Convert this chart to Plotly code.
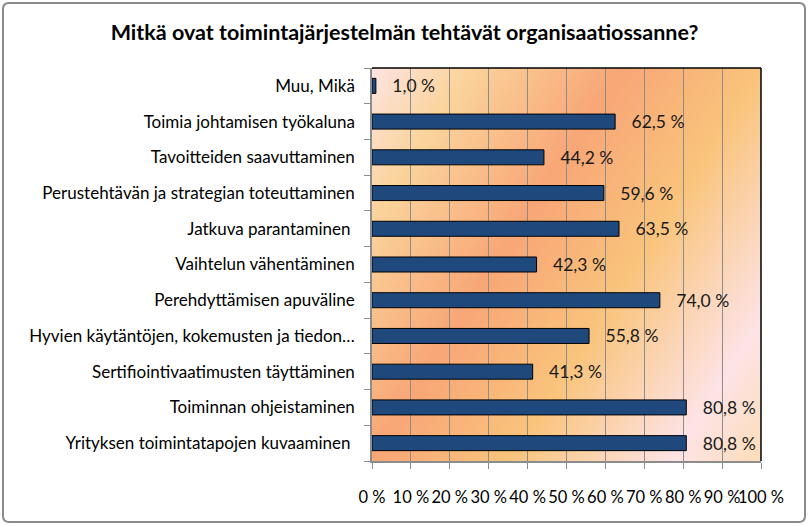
import base64
import plotly.graph_objects as go

categories = [
    "Yrityksen toimintatapojen kuvaaminen\u00a0",
    "Toiminnan ohjeistaminen",
    "Sertifiointivaatimusten täyttäminen",
    "Hyvien käytäntöjen, kokemusten ja tiedon…",
    "Perehdyttämisen apuväline",
    "Vaihtelun vähentäminen",
    "Jatkuva parantaminen\u00a0",
    "Perustehtävän ja strategian toteuttaminen",
    "Tavoitteiden saavuttaminen",
    "Toimia johtamisen työkaluna",
    "Muu, Mikä",
]
values = [80.8, 80.8, 41.3, 55.8, 74.0, 42.3, 63.5, 59.6, 44.2, 62.5, 1.0]
x_tickvals = [0, 10, 20, 30, 40, 50, 60, 70, 80, 90, 100]
x_ticktext = [f"{v} %" for v in x_tickvals]
title = "Mitkä ovat toimintajärjestelmän tehtävät organisaatiossanne?"

W, H = 809, 526
ML, MR, MT, MB = 372, 48, 68, 65
PW, PH = W - ML - MR, H - MT - MB

FONT = "Lato"
FS = 17

# Diagonal gradient background for the plot area
svg = f"""<svg xmlns='http://www.w3.org/2000/svg' width='1000' height='1000' viewBox='0 0 1000 1000' preserveAspectRatio='none'>
<defs><linearGradient id='g' gradientUnits='userSpaceOnUse' x1='0' y1='0' x2='1160' y2='754'>
<stop offset='0' stop-color='#FDE4E2'/>
<stop offset='0.15' stop-color='#FAD49C'/>
<stop offset='0.39' stop-color='#F8A676'/>
<stop offset='0.61' stop-color='#F9C47C'/>
<stop offset='0.86' stop-color='#FDE3E6'/>
<stop offset='1' stop-color='#FCDDB8'/>
</linearGradient></defs>
<rect x='0' y='0' width='1000' height='1000' fill='url(#g)'/>
</svg>"""
src = "data:image/svg+xml;base64," + base64.b64encode(svg.encode()).decode()

labels = ["\u00a0\u00a0\u00a0" + f"{v:.1f}".replace(".", ",") + " %" for v in values]

fig = go.Figure(go.Bar(
    y=categories, x=values, orientation="h",
    marker=dict(color="#1F497D", line=dict(color="#000000", width=1)),
    width=0.42,
    text=labels, textposition="outside", cliponaxis=False, constraintext="none",
    textfont=dict(family=FONT, size=17.5, color="#1a1a1a"),
    hoverinfo="skip",
))

def px_x(p):
    return (p - ML) / PW

def px_y(p):
    return 1 - (p - MT) / PH

# rounded outer border
x0, x1 = px_x(3), px_x(805)
y0, y1 = px_y(3), px_y(522)
rx, ry = 6 / PW, 6 / PH
path = (f"M {x0+rx},{y0} L {x1-rx},{y0} Q {x1},{y0} {x1},{y0-ry} "
        f"L {x1},{y1+ry} Q {x1},{y1} {x1-rx},{y1} L {x0+rx},{y1} "
        f"Q {x0},{y1} {x0},{y1+ry} L {x0},{y0-ry} Q {x0},{y0} {x0+rx},{y0} Z")

fig.update_layout(
    width=W, height=H,
    margin=dict(l=ML, r=MR, t=MT, b=MB, autoexpand=False),
    paper_bgcolor="white", plot_bgcolor="rgba(0,0,0,0)",
    showlegend=False,
    title=dict(text="<b>" + title + "</b>", x=0.5, xref="container", xanchor="center",
               y=1 - 32 / H, yanchor="middle",
               font=dict(family=FONT, size=21.5, color="#000")),
    font=dict(family=FONT, size=FS, color="#000"),
    images=[dict(source=src, xref="paper", yref="paper", x=0, y=1, sizex=1, sizey=1,
                 xanchor="left", yanchor="top", sizing="stretch", layer="below")],
    shapes=[
        dict(type="line", xref="paper", yref="paper", x0=0, x1=1, y0=1, y1=1,
             line=dict(color="#000", width=1.5)),
        dict(type="line", xref="paper", yref="paper", x0=1, x1=1, y0=0, y1=1,
             line=dict(color="#000", width=1.5)),
        dict(type="path", xref="paper", yref="paper", path=path,
             line=dict(color="#8A8A8A", width=2)),
    ],
    xaxis=dict(range=[0, 100], tickvals=x_tickvals, ticktext=x_ticktext,
               showgrid=True, gridcolor="#8C8C8C", gridwidth=1,
               showline=True, linecolor="#8C8C8C", linewidth=1.5,
               ticks="outside", ticklen=6, tickcolor="#8C8C8C", tickangle=0,
               ticklabelstandoff=14, zeroline=False, fixedrange=True, automargin=False,
               tickfont=dict(family=FONT, size=16.5, color="#000")),
    yaxis=dict(type="category", categoryorder="array", categoryarray=categories,
               showline=True, linecolor="#8C8C8C", linewidth=1.5,
               ticks="outside", ticklen=6, tickcolor="#8C8C8C", tickson="boundaries",
               ticklabelstandoff=12, showgrid=False, fixedrange=True, automargin=False,
               tickfont=dict(family=FONT, size=FS, color="#000")),
)

fig.write_html("out.html", config={"displayModeBar": False},
               post_script="document.body.style.margin='0';document.body.style.overflow='hidden';")
